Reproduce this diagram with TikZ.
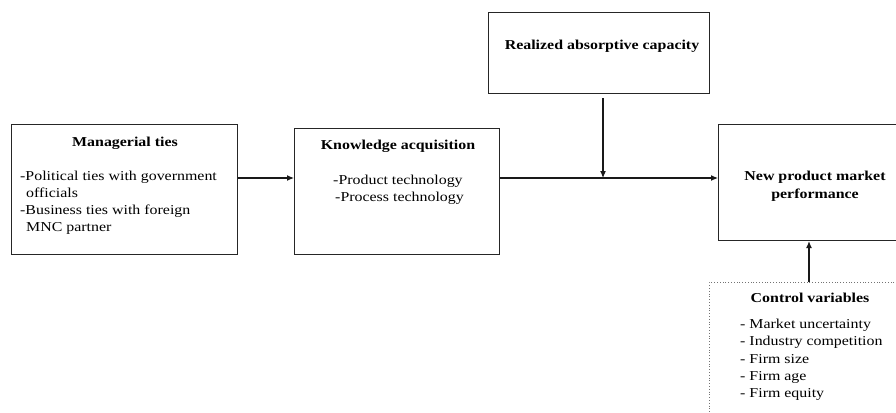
\documentclass[tikz,border=0pt]{standalone}
\usepackage{fontspec}
\setmainfont{Liberation Serif}[FakeStretch=1.17]
\usetikzlibrary{arrows.meta}
\begin{document}
\begin{tikzpicture}[x=1pt,y=-1pt,
 box/.style={draw=black!85, line width=1.1pt, inner sep=0pt, anchor=north west},
 dotbox/.style={draw=black!55, line width=0.8pt, dotted, inner sep=0pt, anchor=north west},
 txt/.style={font=\fontsize{13.6}{17}\selectfont, inner sep=0pt, anchor=base},
 ttl/.style={txt, font=\fontsize{13.6}{17}\selectfont\bfseries},
 lft/.style={txt, anchor=base west},
 arr/.style={line width=1.1pt, draw=black!90, -{Latex[length=7pt,width=6pt]}},
 ln/.style={line width=1.1pt, draw=black!90}]
\useasboundingbox (0,0) rectangle (896,412);
\clip (0,0) rectangle (896,412);
\fill[white] (0,0) rectangle (896,412);
% boxes
\node[box, minimum width=226pt, minimum height=130pt] (mt) at (11,124) {};
\node[box, minimum width=205pt, minimum height=126pt] (ka) at (294,128) {};
\node[box, minimum width=221pt, minimum height=81pt] (rac) at (488,12) {};
\node[box, minimum width=200pt, minimum height=116pt] (np) at (718,124) {};
\node[dotbox, minimum width=200pt, minimum height=160pt] (cv) at (709,282) {};
% texts
\node[ttl] (mtT) at (125,146) {Managerial ties};
\node[lft] (mt1) at (20,180) {-Political ties with government};
\node[lft] (mt2) at (26,197) {officials};
\node[lft] (mt3) at (20,214) {-Business ties with foreign};
\node[lft] (mt4) at (26,231) {MNC partner};
\node[ttl] (kaT) at (398,149) {Knowledge acquisition};
\node[lft] (ka1) at (333,184) {-Product technology};
\node[lft] (ka2) at (335,201) {-Process technology};
\node[ttl] (racT) at (602,50) {Realized absorptive capacity};
\node[ttl] (np1) at (815,180) {New product market};
\node[ttl] (np2) at (815,198) {performance};
\node[ttl] (cvT) at (810,302) {Control variables};
\node[lft] (cv1) at (740,328) {- Market uncertainty};
\node[lft] (cv2) at (740,345) {- Industry competition};
\node[lft] (cv3) at (740,363) {- Firm size};
\node[lft] (cv4) at (740,380) {- Firm age};
\node[lft] (cv5) at (740,397) {- Firm equity};
% connectors
\coordinate (j) at (603,178);
\coordinate (cx) at (809,0);
\draw[arr] (mt.east |- j) -- (ka.west |- j);
\draw[ln] (ka.east |- j) -- (j);
\draw[arr] (j) -- (np.west |- j);
\draw[arr, shorten <=4pt] (rac.south -| j) -- (j);
\draw[arr] (cv.north -| cx) -- (np.south -| cx);
\end{tikzpicture}
\end{document}
